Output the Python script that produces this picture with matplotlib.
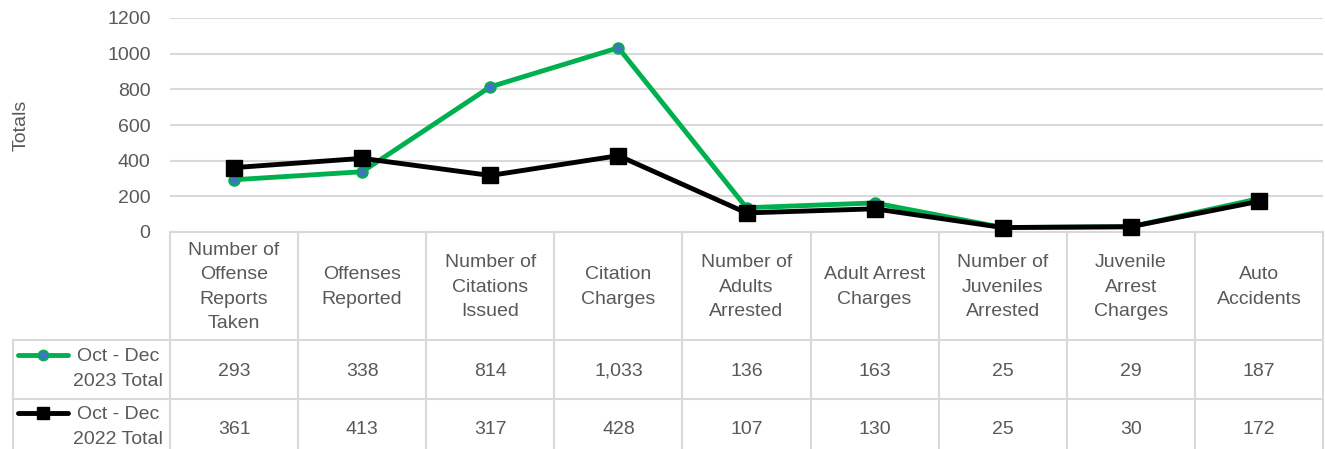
import matplotlib.pyplot as plt
import numpy as np

# Data
categories = [
    "Number of\nOffense\nReports\nTaken",
    "Offenses\nReported",
    "Number of\nCitations\nIssued",
    "Citation\nCharges",
    "Number of\nAdults\nArrested",
    "Adult Arrest\nCharges",
    "Number of\nJuveniles\nArrested",
    "Juvenile\nArrest\nCharges",
    "Auto\nAccidents",
]
totals_2023 = [293, 338, 814, 1033, 136, 163, 25, 29, 187]
totals_2022 = [361, 413, 317, 428, 107, 130, 25, 30, 172]
series_names = ["Oct - Dec\n2023 Total", "Oct - Dec\n2022 Total"]
yticks = [0, 200, 400, 600, 800, 1000, 1200]

plt.rcParams["font.family"] = ["Liberation Sans", "DejaVu Sans"]
txt = "#595959"
grid = "#d9d9d9"
green = "#00b050"
fs = 14
ls = 1.55

W, H = 1325, 449
fig = plt.figure(figsize=(W / 100, H / 100), dpi=100)

# Table axes in pixel coordinates
tab = fig.add_axes([0, 0, 1, 1])
tab.set_xlim(0, W)
tab.set_ylim(H, 0)
tab.axis("off")

x0, x1 = 170, 1323
n = len(categories)
colw = (x1 - x0) / n
row_top, row1, row2, row_bot = 232, 340, 399, 460

# Grid lines of the table
tab.plot([x0, x1], [row_top, row_top], color=grid, lw=1.5)
tab.plot([13, x1], [row1, row1], color=grid, lw=1.5)
tab.plot([13, x1], [row2, row2], color=grid, lw=1.5)
tab.plot([13, 13], [row1, row_bot], color=grid, lw=1.5)
for i in range(n + 1):
    xv = x0 + i * colw
    tab.plot([xv, xv], [row_top, row_bot], color=grid, lw=1.5)

# Header and values
for i in range(n):
    xc = x0 + (i + 0.5) * colw
    tab.text(xc, (row_top + row1) / 2 + 1, categories[i], ha="center", va="center",
             fontsize=fs, color=txt, linespacing=ls)
    tab.text(xc, 376, f"{totals_2023[i]:,}", ha="center", va="baseline",
             fontsize=fs, color=txt)
    tab.text(xc, 434, f"{totals_2022[i]:,}", ha="center", va="baseline",
             fontsize=fs, color=txt)

# Legend keys inside table
tab.plot([18, 68], [355, 355], color=green, lw=3.5, solid_capstyle="round")
tab.plot([43], [355], marker="o", ms=7, mfc="#4472c4", mec=green, mew=1.5)
tab.plot([18, 68], [413, 413], color="black", lw=3.5, solid_capstyle="round")
tab.plot([43], [413], marker="s", ms=9, color="black")
tab.text(118, 369, series_names[0], ha="center", va="center", fontsize=fs, color=txt, linespacing=ls)
tab.text(118, 427, series_names[1], ha="center", va="center", fontsize=fs, color=txt, linespacing=ls)

# Chart axes
ax = fig.add_axes([x0 / W, (H - row_top) / H, (x1 - x0) / W, (row_top - 18) / H])
ax.patch.set_alpha(0)
x = np.arange(n)
ax.plot(x, totals_2023, color=green, lw=3.5, marker="o", ms=7.5, mfc="#4472c4",
        mec=green, mew=1.5, clip_on=False, zorder=3)
ax.plot(x, totals_2022, color="black", lw=3.5, marker="s", ms=12, clip_on=False, zorder=4)
ax.set_xlim(-0.5, n - 0.5)
ax.set_ylim(0, 1200)
ax.set_yticks(yticks)
ax.set_xticks([])
ax.tick_params(axis="y", length=0, pad=14, labelsize=fs, labelcolor=txt)
for yv in yticks[1:]:
    ax.axhline(yv, color=grid, lw=1.5, zorder=0)
for s in ax.spines.values():
    s.set_visible(False)
ax.set_ylabel("Totals", fontsize=fs, color=txt, labelpad=56)

fig.savefig("out.png", dpi=100)
